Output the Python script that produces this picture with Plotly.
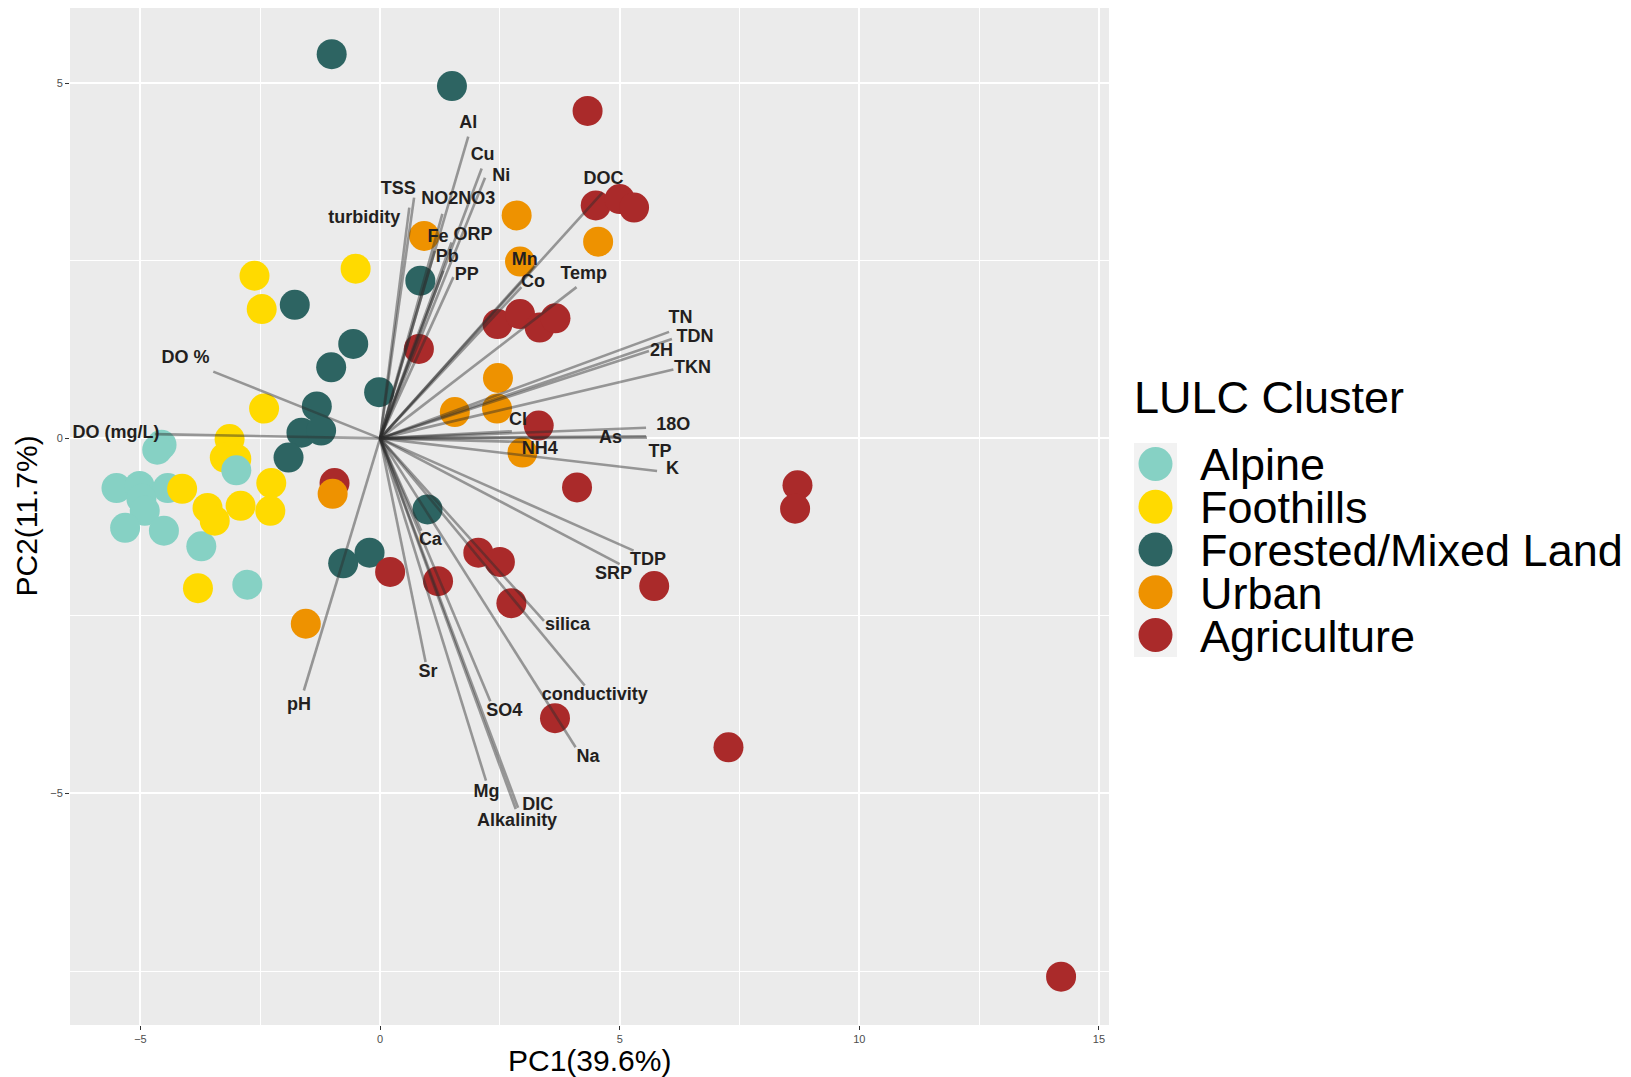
import plotly.graph_objects as go

# ---- PCA sample scores -------------------------------------------------
cluster_names = ["Alpine", "Foothills", "Forested/Mixed Land", "Urban", "Agriculture"]
cluster_colors = ["#86D1C4", "#FFDA00", "#2D6462", "#EE9200", "#AA2A2A"]

pc1 = [
    -4.56, -4.65, -5.50, -5.02, -4.43, -4.98, -4.91, -5.32, -4.51, -3.73, -2.77,
    -2.62, -2.47, -0.51, -2.42, -3.14, -3.24, -3.00, -4.13, -3.60, -3.45, -2.91, -2.27, -2.29, -3.80,
    -3.00,
    -1.01, 1.50, -1.78, -0.56, -1.02, 0.84, -0.02, -1.32, -1.64, -1.23, -1.91, 0.99, -0.22, -0.77,
    4.33, 4.50, 5.00, 5.30, 2.45, 2.92, 3.33, 3.66, 0.81, 3.31, 4.11, 8.71, 8.66, -0.95, 0.21,
    1.21, 2.05, 2.50, 2.74, 5.72, 3.65, 7.27, 14.21,
    0.92, 2.85, 4.55, 2.92, 2.46, 1.56, 2.44, 2.97, -0.99, -1.55,
]
pc2 = [
    -0.09, -0.16, -0.70, -0.67, -0.70, -0.85, -1.02, -1.26, -1.30, -1.52, -2.06,
    2.29, 1.82, 2.39, 0.42, -0.01, -0.27, -0.29, -0.71, -0.98, -1.16, -0.95, -0.63, -1.02, -2.11,
    -0.45,
    5.41, 4.96, 1.88, 1.33, 1.00, 2.22, 0.65, 0.45, 0.08, 0.11, -0.27, -1.00, -1.61, -1.76,
    4.61, 3.28, 3.37, 3.25, 1.61, 1.75, 1.56, 1.69, 1.26, 0.18, -0.69, -0.66, -0.99, -0.63, -1.88,
    -2.01, -1.61, -1.74, -2.32, -2.08, -3.94, -4.35, -7.58,
    2.85, 3.14, 2.77, 2.49, 0.85, 0.37, 0.42, -0.20, -0.78, -2.61,
]
cluster = (
    ["Alpine"] * 11 + ["Foothills"] * 14 + ["Alpine"] + ["Forested/Mixed Land"] * 14
    + ["Agriculture"] * 23 + ["Urban"] * 10
)

# ---- variable loadings (arrow tips) ------------------------------------
variables = [
    "Al", "Cu", "Ni", "TSS", "turbidity", "NO2NO3", "Fe", "ORP", "Pb", "PP",
    "DOC", "Mn", "Co", "Temp", "TN", "TDN", "2H", "TKN", "DO %", "DO (mg/L)",
    "Cl", "18O", "As", "TP", "NH4", "K", "TDP", "SRP", "silica", "conductivity",
    "Na", "SO4", "Mg", "DIC", "Alkalinity", "Sr", "Ca", "pH",
]
load_pc1 = [
    1.84, 2.12, 2.19, 0.71, 0.61, 1.30, 1.14, 1.49, 1.32, 1.53,
    4.64, 3.23, 2.95, 4.10, 6.03, 6.09, 5.61, 6.12, -3.48, -4.70,
    2.75, 5.55, 5.55, 5.57, 3.00, 5.78, 5.29, 5.00, 3.42, 4.27,
    4.08, 2.30, 2.21, 2.88, 2.83, 0.95, 0.86, -1.59,
]
load_pc2 = [
    4.25, 3.80, 3.67, 3.39, 3.25, 3.16, 2.64, 2.76, 2.36, 2.27,
    3.46, 2.43, 2.13, 2.13, 1.50, 1.40, 1.23, 0.97, 0.94, 0.06,
    0.10, 0.15, 0.03, 0.01, -0.05, -0.46, -1.58, -1.77, -2.57, -3.48,
    -4.35, -3.70, -4.82, -5.20, -5.22, -3.15, -1.30, -3.55,
]
# label anchor points next to each arrow tip
label_pc1 = [
    1.84, 2.14, 2.53, 0.38, -0.33, 1.63, 1.21, 1.94, 1.40, 1.81,
    4.66, 3.02, 3.19, 4.25, 6.27, 6.57, 5.87, 6.52, -4.06, -5.51,
    2.88, 6.12, 4.81, 5.84, 3.33, 6.10, 5.59, 4.87, 3.91, 4.48,
    4.34, 2.59, 2.22, 3.29, 2.86, 1.00, 1.05, -1.69,
]
label_pc2 = [
    4.44, 3.99, 3.69, 3.50, 3.09, 3.36, 2.83, 2.86, 2.54, 2.30,
    3.65, 2.50, 2.20, 2.31, 1.69, 1.42, 1.23, 0.99, 1.12, 0.075,
    0.25, 0.18, 0.00, -0.20, -0.15, -0.44, -1.72, -1.91, -2.64, -3.62,
    -4.49, -3.85, -4.98, -5.17, -5.40, -3.30, -1.44, -3.76,
]

x_title = "PC1(39.6%)"
y_title = "PC2(11.7%)"
legend_title = "LULC Cluster"

# ---- figure geometry ----------------------------------------------------
W, H = 1631, 1077
M_L, M_R, M_T, M_B = 70, 522, 8, 52
PW, PH = W - M_L - M_R, H - M_T - M_B


def px_to_paper_x(px):
    return (px - M_L) / PW


def px_to_paper_y(py):
    return (H - M_B - py) / PH


color_of = dict(zip(cluster_names, cluster_colors))

fig = go.Figure()

# sample scores
fig.add_trace(go.Scatter(
    x=pc1, y=pc2, mode="markers",
    marker=dict(size=30, color=[color_of[c] for c in cluster], line=dict(width=0)),
    text=cluster, hovertemplate="%{text}<br>PC1=%{x}<br>PC2=%{y}<extra></extra>",
    showlegend=False,
))

# loading arrows, one trace each so overlapping strokes darken
for name, lx, ly in zip(variables, load_pc1, load_pc2):
    fig.add_trace(go.Scatter(
        x=[0, lx], y=[0, ly], mode="lines",
        line=dict(color="rgba(45,45,45,0.45)", width=2.6),
        hoverinfo="skip", showlegend=False,
    ))

# loading labels
fig.add_trace(go.Scatter(
    x=label_pc1, y=label_pc2, mode="text", text=variables,
    textposition="middle center",
    textfont=dict(family="Liberation Sans, Arial, sans-serif", size=18,
                  color="#231F20", weight="bold"),
    cliponaxis=False, hoverinfo="skip", showlegend=False,
))

axis_common = dict(
    showgrid=True, gridcolor="#FFFFFF", gridwidth=1.5,
    zeroline=False, showline=False,
    ticks="outside", ticklen=4, tickwidth=1, tickcolor="#333333",
    tickfont=dict(family="Liberation Sans, Arial, sans-serif", size=11, color="#4D4D4D"),
    tick0=0, dtick=5,
    minor=dict(dtick=2.5, showgrid=True, gridcolor="#FFFFFF", gridwidth=0.75, ticks=""),
)

fig.update_layout(
    width=W, height=H,
    margin=dict(l=M_L, r=M_R, t=M_T, b=M_B, pad=0),
    paper_bgcolor="#FFFFFF", plot_bgcolor="#EBEBEB",
    font=dict(family="Liberation Sans, Arial, sans-serif", color="#000000"),
    xaxis=dict(range=[-6.47, 15.21], **axis_common),
    yaxis=dict(range=[-8.26, 6.06], **axis_common),
    showlegend=False,
)

annotations = [
    dict(text=x_title, xref="paper", yref="paper", x=0.5, y=px_to_paper_y(1060),
         xanchor="center", yanchor="middle", showarrow=False,
         font=dict(size=30, color="#000000")),
    dict(text=y_title, xref="paper", yref="paper", x=px_to_paper_x(26), y=0.5,
         xanchor="center", yanchor="middle", showarrow=False, textangle=-90,
         font=dict(size=30, color="#000000")),
    dict(text=legend_title, xref="paper", yref="paper", x=px_to_paper_x(1132), y=px_to_paper_y(398),
         xanchor="left", yanchor="middle", showarrow=False,
         font=dict(size=45, color="#000000")),
]

# legend built from shapes so keys can match the plotted marker size
shapes = [dict(type="rect", xref="paper", yref="paper",
               x0=px_to_paper_x(1134), x1=px_to_paper_x(1177),
               y0=px_to_paper_y(657), y1=px_to_paper_y(443),
               fillcolor="#F2F2F2", line=dict(width=0), layer="below")]
key_y0, key_step = 464, 42.75
for i, (name, col) in enumerate(zip(cluster_names, cluster_colors)):
    cy = key_y0 + i * key_step
    shapes.append(dict(
        type="circle", xref="paper", yref="paper",
        xsizemode="pixel", ysizemode="pixel",
        xanchor=px_to_paper_x(1155.5), yanchor=px_to_paper_y(cy),
        x0=-17, x1=17, y0=-17, y1=17,
        fillcolor=col, line=dict(width=0),
    ))
    annotations.append(dict(
        text=name, xref="paper", yref="paper",
        x=px_to_paper_x(1198), y=px_to_paper_y(cy + 1),
        xanchor="left", yanchor="middle", showarrow=False,
        font=dict(size=45, color="#000000"),
    ))

fig.update_layout(annotations=annotations, shapes=shapes)

fig.write_html("out.html")
